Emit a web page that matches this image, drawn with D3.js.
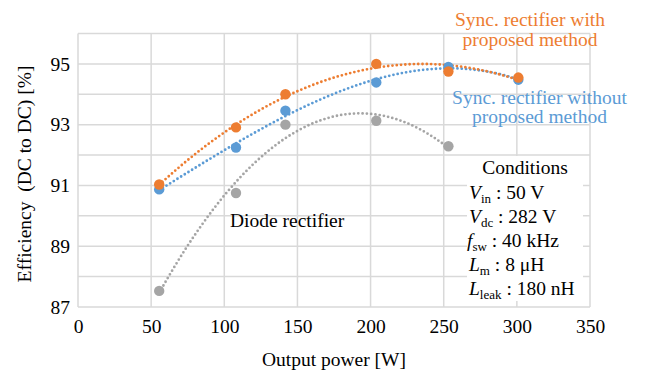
<!DOCTYPE html>
<html>
<head>
<meta charset="utf-8">
<script src="https://cdn.jsdelivr.net/npm/d3@7"></script>
<style>
  html, body { margin: 0; padding: 0; background: #fff; }
  svg { display: block; }
  text { font-family: "Liberation Serif", "Times New Roman", serif; }
</style>
</head>
<body>
<svg id="chart" width="646" height="372"></svg>
<script>
// ---- data ----
const xTickValues = [0, 50, 100, 150, 200, 250, 300, 350];
const yTickLabels = [87, 89, 91, 93, 95];
const yGridValues = [87, 88, 89, 90, 91, 92, 93, 94, 95, 96];

const syncWithX = [55.5, 108, 141.8, 203.9, 253.2, 301];
const syncWithY = [91.03, 92.91, 94.0, 95.0, 94.75, 94.55];

const syncWithoutX = [55.5, 108, 141.8, 203.9, 253.2, 301];
const syncWithoutY = [90.87, 92.25, 93.46, 94.39, 94.9, 94.48];

const diodeX = [55.5, 108, 141.8, 203.9, 253.2];
const diodeY = [87.53, 90.75, 93.0, 93.13, 92.29];

const seriesColors = ["#A5A5A5", "#5B9BD5", "#ED7D31"];

// ---- layout ----
const svg = d3.select("#chart");
svg.append("rect").attr("width", 646).attr("height", 372).attr("fill", "#fff");

const x = d3.scaleLinear().domain([0, 350]).range([78, 590]);
const y = d3.scaleLinear().domain([87, 96]).range([307, 33.5]);

const gridColor = "#D9D9D9";

// grid
const g = svg.append("g");
g.selectAll(".hg").data(yGridValues).enter().append("line")
  .attr("x1", x(0)).attr("x2", x(350))
  .attr("y1", d => y(d)).attr("y2", d => y(d))
  .attr("stroke", gridColor).attr("stroke-width", 1.5);
g.selectAll(".vg").data(xTickValues).enter().append("line")
  .attr("x1", d => x(d)).attr("x2", d => x(d))
  .attr("y1", y(87)).attr("y2", y(96))
  .attr("stroke", gridColor).attr("stroke-width", 1.5);

// axes (labels)
const xAxis = d3.axisBottom(x).tickValues(xTickValues).tickSize(0).tickPadding(12);
const xg = svg.append("g").attr("transform", `translate(0,${y(87)})`).call(xAxis);
xg.select(".domain").remove();
xg.selectAll("text").attr("font-size", 19.5).attr("fill", "#000");

const yAxis = d3.axisLeft(y).tickValues(yTickLabels).tickSize(0).tickPadding(8);
const yg = svg.append("g").attr("transform", `translate(${x(0)},0)`).call(yAxis);
yg.select(".domain").remove();
yg.selectAll("text").attr("font-size", 19.5).attr("fill", "#000");

// axis titles
svg.append("text").attr("x", (x(0) + x(350)) / 2).attr("y", 366)
  .attr("text-anchor", "middle").attr("font-size", 19.5).text("Output power [W]");
svg.append("text")
  .attr("transform", `translate(31,${174}) rotate(-90)`)
  .attr("text-anchor", "middle").attr("font-size", 19.5)
  .style("white-space", "pre")
  .text("Efficiency  (DC to DC) [%]");

// polynomial least squares trendline
function polyFit(xs, ys, order) {
  const m = order + 1;
  const A = [];
  for (let r = 0; r < m; r++) {
    const row = [];
    for (let c = 0; c < m; c++) row.push(d3.sum(xs, xv => Math.pow(xv / 100, r + c)));
    row.push(d3.sum(xs.map((xv, i) => ys[i] * Math.pow(xv / 100, r))));
    A.push(row);
  }
  for (let c = 0; c < m; c++) {
    for (let r = c + 1; r < m; r++) {
      const f = A[r][c] / A[c][c];
      for (let k = c; k <= m; k++) A[r][k] -= f * A[c][k];
    }
  }
  const coef = new Array(m).fill(0);
  for (let r = m - 1; r >= 0; r--) {
    let v = A[r][m];
    for (let k = r + 1; k < m; k++) v -= A[r][k] * coef[k];
    coef[r] = v / A[r][r];
  }
  return xv => coef.reduce((s, cf, k) => s + cf * Math.pow(xv / 100, k), 0);
}

const series = [
  { xs: diodeX, ys: diodeY, color: seriesColors[0], order: 2 },
  { xs: syncWithoutX, ys: syncWithoutY, color: seriesColors[1], order: 3 },
  { xs: syncWithX, ys: syncWithY, color: seriesColors[2], order: 2 }
];

const line = d3.line().x(d => x(d[0])).y(d => y(d[1]));
series.forEach(s => {
  const f = polyFit(s.xs, s.ys, s.order);
  const x0 = d3.min(s.xs), x1 = d3.max(s.xs);
  const pts = d3.range(0, 201).map(i => { const xv = x0 + (x1 - x0) * i / 200; return [xv, f(xv)]; });
  svg.append("path").attr("d", line(pts)).attr("fill", "none")
    .attr("stroke", s.color).attr("stroke-width", 2.8)
    .attr("stroke-linecap", "round").attr("stroke-dasharray", "0 4.3");
});
series.forEach(s => {
  svg.append("g").selectAll("circle").data(s.xs.map((xv, i) => [xv, s.ys[i]])).enter()
    .append("circle").attr("cx", d => x(d[0])).attr("cy", d => y(d[1])).attr("r", 5.2)
    .attr("fill", s.color);
});

// annotations
const ann = svg.append("g").attr("font-size", 19.5);
ann.append("text").attr("x", 530).attr("y", 26).attr("text-anchor", "middle")
  .attr("fill", "#ED7D31").text("Sync. rectifier with");
ann.append("text").attr("x", 530).attr("y", 46).attr("text-anchor", "middle")
  .attr("fill", "#ED7D31").text("proposed method");
ann.append("text").attr("x", 539.5).attr("y", 104).attr("text-anchor", "middle")
  .attr("fill", "#5B9BD5").text("Sync. rectifier without");
ann.append("text").attr("x", 539.5).attr("y", 123).attr("text-anchor", "middle")
  .attr("fill", "#5B9BD5").text("proposed method");
ann.append("text").attr("x", 230).attr("y", 227).attr("fill", "#000").text("Diode rectifier");

// conditions box
svg.append("rect").attr("x", 467).attr("y", 156).attr("width", 116).attr("height", 145).attr("fill", "#fff");
const condNames = [["V", "in", " : 50 V"], ["V", "dc", " : 282 V"], ["f", "sw", " : 40 kHz"], ["L", "m", " : 8 μH"], ["L", "leak", " : 180 nH"]];
const cond = svg.append("g").attr("font-size", 19.5).attr("fill", "#000");
cond.append("text").attr("x", 525).attr("y", 174).attr("text-anchor", "middle").text("Conditions");
condNames.forEach((c, i) => {
  const t = cond.append("text").attr("x", c[0] === "f" ? 467 : 469).attr("y", 198.5 + i * 24.2)
    .style("white-space", "pre");
  t.append("tspan").attr("font-style", "italic").text(c[0]);
  t.append("tspan").attr("font-size", 13).attr("dy", 4).text(c[1]);
  t.append("tspan").attr("dy", -4).text(c[2]);
});
</script>
</body>
</html>
